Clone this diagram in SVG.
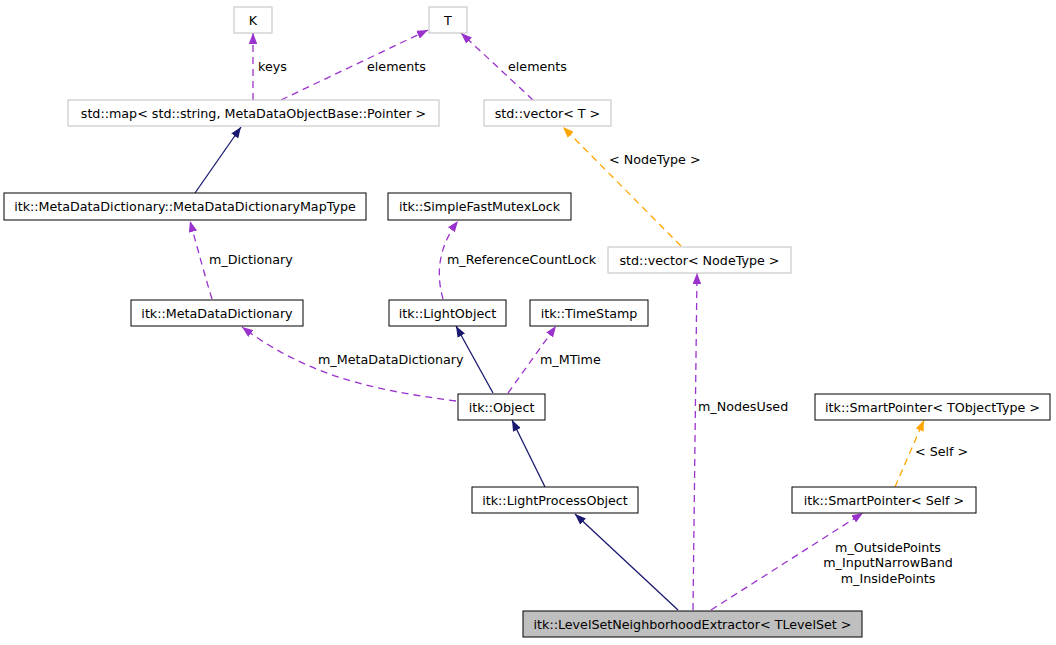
<svg xmlns="http://www.w3.org/2000/svg" width="1056" height="645" viewBox="0 0 1056 645">
<defs>
<style>
text{font-family:"DejaVu Sans","Liberation Sans",sans-serif;font-size:12.7px;fill:#000}
.n rect{fill:#fff;stroke:#000;stroke-width:1}
.g rect{fill:#fff;stroke:#bfbfbf;stroke-width:1}
.n text,.g text{text-anchor:middle}
.u{fill:none;stroke:#9a32cd;stroke-width:1.3;stroke-dasharray:7,5;marker-end:url(#ap)}
.o{fill:none;stroke:#ffa500;stroke-width:1.3;stroke-dasharray:7,5;marker-end:url(#ao)}
.s{fill:none;stroke:#191970;stroke-width:1.3;marker-end:url(#an)}
</style>
<marker id="ap" viewBox="0 0 11 8.5" refX="11" refY="4.25" markerWidth="11" markerHeight="8.5" markerUnits="userSpaceOnUse" orient="auto"><path d="M0,0L11,4.25L0,8.5Z" fill="#9a32cd"/></marker>
<marker id="ao" viewBox="0 0 11 8.5" refX="11" refY="4.25" markerWidth="11" markerHeight="8.5" markerUnits="userSpaceOnUse" orient="auto"><path d="M0,0L11,4.25L0,8.5Z" fill="#ffa500"/></marker>
<marker id="an" viewBox="0 0 11 8.5" refX="11" refY="4.25" markerWidth="11" markerHeight="8.5" markerUnits="userSpaceOnUse" orient="auto"><path d="M0,0L11,4.25L0,8.5Z" fill="#191970"/></marker>
</defs>
<rect width="1056" height="645" fill="#fff"/>
<g id="edges">
<path class="u" d="M253,100L253,33"/>
<text x="258" y="71">keys</text>
<path class="u" d="M281,100L428,30"/>
<text x="367" y="71">elements</text>
<path class="u" d="M533,100L461,33"/>
<text x="508" y="71">elements</text>
<path class="s" d="M195,193L241,127"/>
<path class="o" d="M681,246L563,127"/>
<text x="609" y="164">&lt; NodeType &gt;</text>
<path class="u" d="M212,299C206,280 198,250 190,221"/>
<text x="209" y="264">m_Dictionary</text>
<path class="u" d="M443,299C437,278 436,250 458,221"/>
<text x="447" y="264">m_ReferenceCountLock</text>
<path class="s" d="M493,393L456,326"/>
<path class="u" d="M508,393L556,326"/>
<text x="540" y="364">m_MTime</text>
<path class="u" d="M456,401C380,391 310,378 242,327"/>
<text x="318" y="364">m_MetaDataDictionary</text>
<path class="s" d="M545,487L512,420"/>
<path class="s" d="M678,610L575,514"/>
<path class="u" d="M693,610L697,273"/>
<text x="698" y="411">m_NodesUsed</text>
<path class="u" d="M711,610L863,513"/>
<text x="888" y="552" text-anchor="middle">m_OutsidePoints</text>
<text x="888" y="567" text-anchor="middle">m_InputNarrowBand</text>
<text x="888" y="583" text-anchor="middle">m_InsidePoints</text>
<path class="o" d="M895,487L924,420"/>
<text x="915" y="456">&lt; Self &gt;</text>
</g>
<g id="K" class="g"><rect x="234" y="7" width="38" height="26"/><text x="253" y="24.5">K</text></g>
<g id="T" class="g"><rect x="429" y="7" width="38" height="26"/><text x="448" y="24.5">T</text></g>
<g id="map" class="g"><rect x="68" y="100" width="371" height="26"/><text x="253.5" y="117.5">std::map&lt; std::string, MetaDataObjectBase::Pointer &gt;</text></g>
<g id="vectorT" class="g"><rect x="484" y="100" width="127" height="26"/><text x="547.5" y="117.5">std::vector&lt; T &gt;</text></g>
<g id="mapType" class="n"><rect x="4" y="193" width="362" height="27"/><text x="185" y="211">itk::MetaDataDictionary::MetaDataDictionaryMapType</text></g>
<g id="mutex" class="n"><rect x="388" y="193" width="183" height="27"/><text x="479.5" y="211">itk::SimpleFastMutexLock</text></g>
<g id="vectorNode" class="g"><rect x="608" y="247" width="183" height="26"/><text x="699.5" y="264.5">std::vector&lt; NodeType &gt;</text></g>
<g id="mdd" class="n"><rect x="131" y="300" width="172" height="26"/><text x="217" y="317.5">itk::MetaDataDictionary</text></g>
<g id="lightObject" class="n"><rect x="389" y="300" width="117" height="26"/><text x="447.5" y="317.5">itk::LightObject</text></g>
<g id="timeStamp" class="n"><rect x="530" y="300" width="118" height="26"/><text x="589" y="317.5">itk::TimeStamp</text></g>
<g id="object" class="n"><rect x="458" y="394" width="87" height="26"/><text x="501.5" y="411.5">itk::Object</text></g>
<g id="spTObj" class="n"><rect x="815" y="394" width="235" height="26"/><text x="932.5" y="411.5">itk::SmartPointer&lt; TObjectType &gt;</text></g>
<g id="lpo" class="n"><rect x="472" y="487" width="166" height="26"/><text x="555" y="504.5">itk::LightProcessObject</text></g>
<g id="spSelf" class="n"><rect x="792" y="487" width="184" height="26"/><text x="884" y="504.5">itk::SmartPointer&lt; Self &gt;</text></g>
<g id="lsne" class="n"><rect x="523" y="611" width="339" height="26" style="fill:#bfbfbf"/><text x="692.5" y="628.5">itk::LevelSetNeighborhoodExtractor&lt; TLevelSet &gt;</text></g>
</svg>
